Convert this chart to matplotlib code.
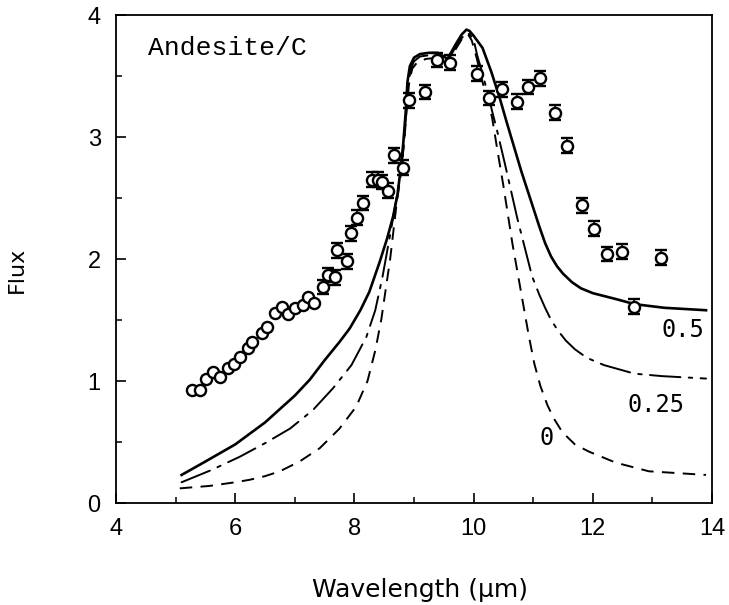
import matplotlib
matplotlib.use("Agg")
import matplotlib.pyplot as plt
import numpy as np

plt.rcParams['lines.scale_dashes'] = False

# Observed data points
obs_x = [5.27, 5.41, 5.51, 5.62, 5.74, 5.88, 5.98, 6.08, 6.21, 6.29, 6.45, 6.53,
         6.66, 6.78, 6.88, 7.00, 7.13, 7.22, 7.33,
         7.47, 7.55, 7.67, 7.70, 7.87, 7.94, 8.05, 8.14, 8.29, 8.39, 8.47, 8.57,
         8.67, 8.81, 8.92, 9.18, 9.38, 9.61, 10.05, 10.26, 10.48, 10.72, 10.92,
         11.12, 11.37, 11.57, 11.82, 12.02, 12.24, 12.49, 12.69, 13.15]
obs_y = [0.93, 0.93, 1.02, 1.07, 1.03, 1.11, 1.14, 1.20, 1.27, 1.32, 1.39, 1.44,
         1.56, 1.61, 1.55, 1.60, 1.62, 1.69, 1.64,
         1.77, 1.87, 1.85, 2.07, 1.98, 2.21, 2.34, 2.46, 2.65, 2.65, 2.63, 2.56,
         2.85, 2.75, 3.30, 3.37, 3.63, 3.61, 3.52, 3.32, 3.39, 3.29, 3.41,
         3.48, 3.20, 2.93, 2.44, 2.25, 2.04, 2.06, 1.61, 2.01]
obs_err = [0.0] * 19 + [0.06] * 32

# Model curve: fraction 0.5 (solid)
m05_x = [5.1, 5.5, 6.0, 6.5, 7.0, 7.25, 7.5, 7.75, 7.92, 8.1, 8.25, 8.42, 8.55,
         8.65, 8.72, 8.78, 8.82, 8.86, 8.89, 8.93, 9.0, 9.1, 9.25, 9.4, 9.5,
         9.56, 9.62, 9.7, 9.8, 9.88, 9.93, 10.0, 10.15, 10.3, 10.45, 10.55,
         10.8, 11.0, 11.1, 11.2, 11.3, 11.4, 11.5, 11.65, 11.8, 12.0, 12.4,
         12.7, 13.2, 13.9]
m05_y = [0.23, 0.34, 0.48, 0.66, 0.88, 1.01, 1.17, 1.32, 1.43, 1.58, 1.73, 1.97, 2.17,
         2.35, 2.52, 2.75, 2.95, 3.20, 3.45, 3.58, 3.65, 3.68, 3.69, 3.69, 3.66,
         3.64, 3.69, 3.76, 3.84, 3.88, 3.87, 3.83, 3.73, 3.53, 3.30, 3.13,
         2.72, 2.42, 2.27, 2.13, 2.02, 1.94, 1.88, 1.81, 1.76, 1.72, 1.67,
         1.63, 1.60, 1.58]

# Model curve: fraction 0.25 (dash-dot)
m025_x = [5.1, 5.6, 6.08, 6.5, 6.92, 7.3, 7.64, 7.95, 8.2, 8.35, 8.47, 8.6, 8.7,
          8.78, 8.83, 8.87, 8.9, 8.95, 9.0, 9.1, 9.25, 9.4, 9.5, 9.56, 9.62,
          9.7, 9.8, 9.87, 9.92, 10.0, 10.06, 10.15, 10.25, 10.4, 10.53, 10.73,
          10.98, 11.1, 11.2, 11.3, 11.42, 11.55, 11.7, 11.9, 12.19, 12.7, 13.16, 13.9]
m025_y = [0.17, 0.27, 0.38, 0.49, 0.61, 0.76, 0.94, 1.13, 1.36, 1.58, 1.85, 2.2, 2.48,
          2.72, 2.95, 3.2, 3.43, 3.56, 3.62, 3.66, 3.67, 3.67, 3.64,
          3.62, 3.67, 3.74, 3.81, 3.85, 3.85, 3.80, 3.67, 3.52, 3.33, 3.04, 2.77, 2.34,
          1.86, 1.71, 1.60, 1.50, 1.41, 1.33, 1.26, 1.19, 1.13, 1.06, 1.04, 1.02]

# Model curve: fraction 0 (dashed)
m0_x = [5.07, 5.57, 6.0, 6.24, 6.5, 6.75, 7.08, 7.42, 7.75, 8.03, 8.22, 8.35, 8.45,
        8.6, 8.7, 8.78, 8.84, 8.88, 8.92, 8.97, 9.05, 9.2, 9.4, 9.5, 9.56, 9.62,
        9.7, 9.8, 9.86, 9.91, 9.97, 10.05, 10.15, 10.31, 10.4, 10.5, 10.65,
        10.77, 10.85, 10.93, 11.02, 11.12, 11.24, 11.35, 11.49, 11.7, 11.94,
        12.39, 12.94, 13.9]
m0_y = [0.12, 0.14, 0.17, 0.19, 0.22, 0.26, 0.34, 0.45, 0.61, 0.79, 1.0, 1.25, 1.5,
        2.0, 2.42, 2.7, 2.98, 3.25, 3.45, 3.56, 3.61, 3.64, 3.65, 3.62, 3.60, 3.65,
        3.72, 3.80, 3.84, 3.84, 3.79, 3.65, 3.45, 3.16, 2.89, 2.6, 2.13,
        1.80, 1.58, 1.36, 1.14, 0.96, 0.80, 0.69, 0.58, 0.48, 0.42,
        0.33, 0.26, 0.23]

curve_labels = ["0.5", "0.25", "0"]

fig = plt.figure(figsize=(7.29, 6.05), dpi=100)
ax = fig.add_axes([116/729, 102/605, 596/729, 488/605])

ax.plot(m05_x, m05_y, color='black', lw=1.9, ls='-')
ax.plot(m025_x, m025_y, color='black', lw=1.4, ls=(0, (22, 6, 2.5, 6)),
        dash_capstyle='round')
ax.plot(m0_x, m0_y, color='black', lw=1.4, ls=(0, (9, 6)))

ax.errorbar(obs_x, obs_y, yerr=obs_err, fmt='o', ms=8, mfc='white', mec='black',
            mew=1.7, ecolor='black', elinewidth=1.2, capsize=4, capthick=1.6,
            zorder=5)

ax.set_xlim(4, 14)
ax.set_ylim(0, 4)
ax.set_xticks([4, 6, 8, 10, 12, 14])
ax.set_xticks([5, 7, 9, 11, 13], minor=True)
ax.set_yticks([0, 1, 2, 3, 4])
ax.set_yticks([0.5, 1.5, 2.5, 3.5], minor=True)
ax.tick_params(which='major', direction='in', length=7, width=1.2,
               labelsize=17, pad=11)
ax.tick_params(which='minor', direction='in', length=4, width=1.1)
for lab in ax.get_xticklabels() + ax.get_yticklabels():
    lab.set_fontfamily('Liberation Sans')
for sp in ax.spines.values():
    sp.set_linewidth(1.3)

fig.text(17/729, 1 - 270/605, 'Flux', fontsize=16, family='DejaVu Sans',
         rotation=90, ha='center', va='center')
fig.text(420/729, 1 - 590/605, 'Wavelength (μm)', fontsize=18,
         family='DejaVu Sans', ha='center', va='center')

ax.text(4.54, 3.67, 'Andesite/C', family='Liberation Mono', fontsize=19,
        ha='left', va='baseline')
ax.text(13.87, 1.36, curve_labels[0], family='DejaVu Sans Mono', fontsize=17,
        ha='right', va='baseline')
ax.text(12.58, 0.75, curve_labels[1], family='DejaVu Sans Mono', fontsize=17,
        ha='left', va='baseline')
ax.text(11.10, 0.475, curve_labels[2], family='DejaVu Sans Mono', fontsize=17,
        ha='left', va='baseline')

fig.savefig('out.png', dpi=100)
